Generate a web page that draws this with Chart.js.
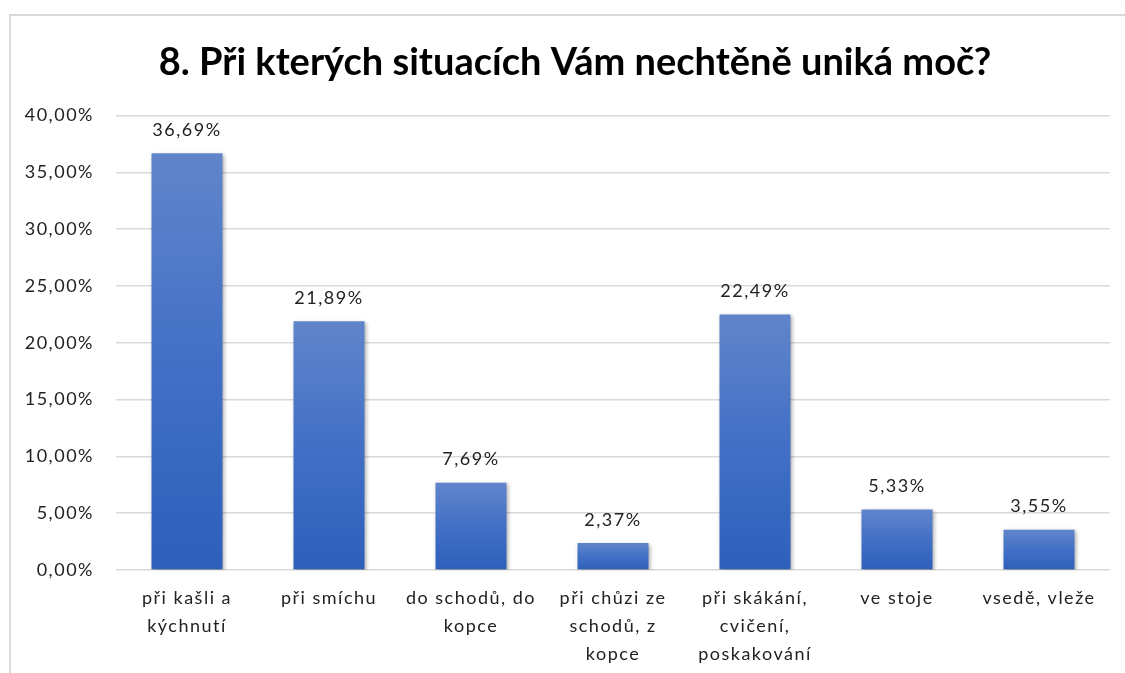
<!DOCTYPE html>
<html>
<head>
<meta charset="utf-8">
<script src="https://cdn.jsdelivr.net/npm/chart.js@4.4.1/dist/chart.umd.min.js"></script>
<style>
  html, body { margin: 0; padding: 0; background: #fff; overflow: hidden; }
  #wrap { position: relative; width: 1125px; height: 673px; }
  #frame { position: absolute; left: 9px; top: 14px; width: 1200px; height: 800px;
           border-left: 2px solid #d9d9d9; border-top: 2px solid #d9d9d9; pointer-events: none; }
</style>
</head>
<body>
<div id="wrap">
  <canvas id="c" width="1125" height="673"></canvas>
  <div id="frame"></div>
</div>
<script>
const titleText = '8. Při kterých situacích Vám nechtěně uniká moč?';
const categories = [
  ['při kašli a', 'kýchnutí'],
  ['při smíchu'],
  ['do schodů, do', 'kopce'],
  ['při chůzi ze', 'schodů, z', 'kopce'],
  ['při skákání,', 'cvičení,', 'poskakování'],
  ['ve stoje'],
  ['vsedě, vleže']
];
const values = [36.69, 21.89, 7.69, 2.37, 22.49, 5.33, 3.55];
const yTicks = [0, 5, 10, 15, 20, 25, 30, 35, 40];

const fmt = v => v.toFixed(2).replace('.', ',') + '%';
const FONT = 'Lato, "Open Sans", sans-serif';
const SPACING = '1.5px';
const TEXT_COLOR = '#222222';

function spacedLabels(scale) {
  if (scale._spacedWrapped) return;
  scale._spacedWrapped = true;
  const orig = scale.drawLabels;
  // let the tick labels extend past the narrow scale box
  scale._computeLabelArea = function () { return undefined; };
  scale.drawLabels = function (area) {
    const c = this.ctx;
    c.save();
    c.letterSpacing = SPACING;
    orig.call(this, area);
    c.restore();
  };
}

const barPlugin = {
  id: 'barDecor',
  beforeDatasetsDraw(chart) {
    const c = chart.ctx;
    c.save();
    c.shadowColor = 'rgba(0,0,0,0.35)';
    c.shadowBlur = 4;
    c.shadowOffsetX = 1.5;
    c.shadowOffsetY = 1.5;
  },
  afterDatasetsDraw(chart) {
    chart.ctx.restore();
    const c = chart.ctx;
    const meta = chart.getDatasetMeta(0);
    c.save();
    c.font = '18px ' + FONT;
    c.letterSpacing = SPACING;
    c.fillStyle = TEXT_COLOR;
    c.textAlign = 'center';
    c.textBaseline = 'middle';
    meta.data.forEach((bar, i) => {
      c.fillText(fmt(values[i]), bar.x, bar.y - 23);
    });
    c.restore();
  }
};

new Chart(document.getElementById('c'), {
  type: 'bar',
  data: {
    labels: categories,
    datasets: [{
      data: values,
      backgroundColor(ctx) {
        const chart = ctx.chart;
        if (!chart.chartArea || ctx.raw === undefined) return '#4472c4';
        const y = chart.scales.y;
        const top = y.getPixelForValue(ctx.raw);
        const bottom = y.getPixelForValue(0);
        const g = chart.ctx.createLinearGradient(0, top, 0, bottom);
        g.addColorStop(0, '#6185cb');
        g.addColorStop(0.5, '#4270c6');
        g.addColorStop(1, '#2e5fba');
        return g;
      },
      borderWidth: 0,
      barPercentage: 0.5,
      categoryPercentage: 1.0
    }]
  },
  options: {
    responsive: false,
    animation: false,
    devicePixelRatio: 1,
    layout: { padding: { left: 40, right: 15, top: 0, bottom: 0 } },
    plugins: {
      legend: { display: false },
      tooltip: { enabled: false },
      title: {
        display: true,
        text: titleText,
        color: '#000',
        font: { family: FONT, size: 38, weight: 'bold', lineHeight: 1.2 },
        padding: { top: 40, bottom: 30 }
      }
    },
    scales: {
      x: {
        grid: { display: false, drawTicks: false },
        border: { display: false },
        ticks: {
          color: TEXT_COLOR,
          font: { family: FONT, size: 18, lineHeight: 1.55 },
          padding: 14,
          maxRotation: 0,
          autoSkip: false
        },
        afterFit(scale) { scale.height = 103; spacedLabels(scale); }
      },
      y: {
        min: 0, max: 40,
        afterBuildTicks(scale) { scale.ticks = yTicks.map(v => ({ value: v })); },
        grid: { color: '#d9d9d9', lineWidth: 1.5, drawTicks: false },
        border: { display: false },
        ticks: {
          color: TEXT_COLOR,
          font: { family: FONT, size: 18 },
          padding: 22,
          callback: v => fmt(v)
        },
        afterFit(scale) { scale.width = 76; spacedLabels(scale); }
      }
    }
  },
  plugins: [barPlugin]
});
</script>
</body>
</html>
